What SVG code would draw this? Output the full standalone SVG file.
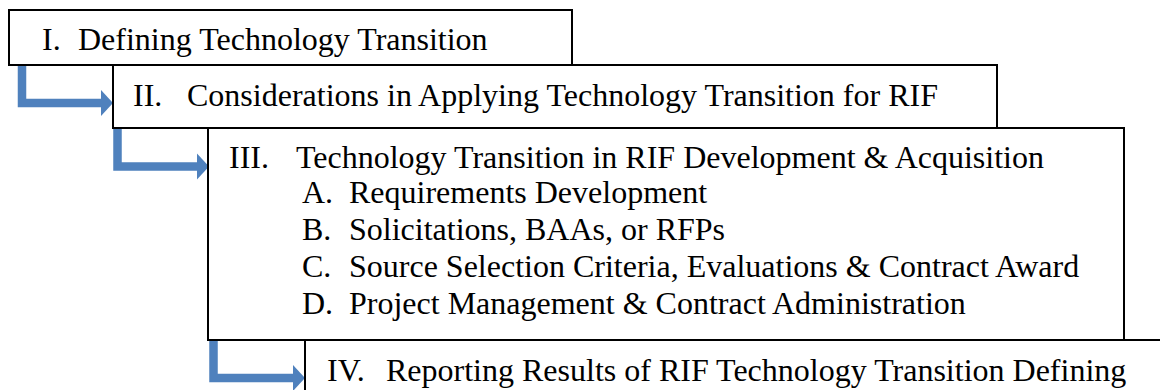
<svg xmlns="http://www.w3.org/2000/svg" width="1160" height="390" viewBox="0 0 1160 390">
  <style>
    .box { fill: #ffffff; stroke: #000000; stroke-width: 2; }
    .t { font-family: "Liberation Serif", "Times New Roman", serif; font-size: 32px; fill: #000000; }
    .conn { fill: none; stroke: #4F81BD; stroke-width: 8.5; stroke-linejoin: miter; stroke-linecap: butt; }
  </style>
  <defs>
    <marker id="head" markerUnits="userSpaceOnUse" markerWidth="13" markerHeight="27" refX="0" refY="13" orient="auto" overflow="visible">
      <path d="M0,0 L12,13 L0,26 Z" fill="#4F81BD"/>
    </marker>
  </defs>
  <rect x="0" y="0" width="1160" height="390" fill="#ffffff"/>
  <g id="connectors">
    <path class="conn" d="M22,65 V103 H101" marker-end="url(#head)"/>
    <path class="conn" d="M117.5,128 V166.5 H197" marker-end="url(#head)"/>
    <path class="conn" d="M213.5,340 V378 H293" marker-end="url(#head)"/>
  </g>
  <g id="node-1">
    <rect class="box" x="9" y="10" width="563" height="55"/>
    <text class="t" y="50"><tspan x="42">I.</tspan><tspan x="78">Defining Technology Transition</tspan></text>
  </g>
  <g id="node-2">
    <rect class="box" x="113" y="65" width="884" height="63"/>
    <text class="t" y="106"><tspan x="133">II.</tspan><tspan x="187">Considerations in Applying Technology Transition for RIF</tspan></text>
  </g>
  <g id="node-3">
    <rect class="box" x="208" y="128" width="916" height="212"/>
    <text class="t" y="168"><tspan x="229">III.</tspan><tspan x="296">Technology Transition in RIF Development &amp; Acquisition</tspan></text>
    <text class="t" y="203"><tspan x="302">A.</tspan><tspan x="349">Requirements Development</tspan></text>
    <text class="t" y="240"><tspan x="302">B.</tspan><tspan x="349">Solicitations, BAAs, or RFPs</tspan></text>
    <text class="t" y="277"><tspan x="302">C.</tspan><tspan x="349">Source Selection Criteria, Evaluations &amp; Contract Award</tspan></text>
    <text class="t" y="314"><tspan x="302">D.</tspan><tspan x="349">Project Management &amp; Contract Administration</tspan></text>
  </g>
  <g id="node-4">
    <rect class="box" x="305" y="340" width="900" height="100"/>
    <text class="t" y="381"><tspan x="327">IV.</tspan><tspan x="386">Reporting Results of RIF Technology Transition Defining</tspan></text>
  </g>
</svg>
